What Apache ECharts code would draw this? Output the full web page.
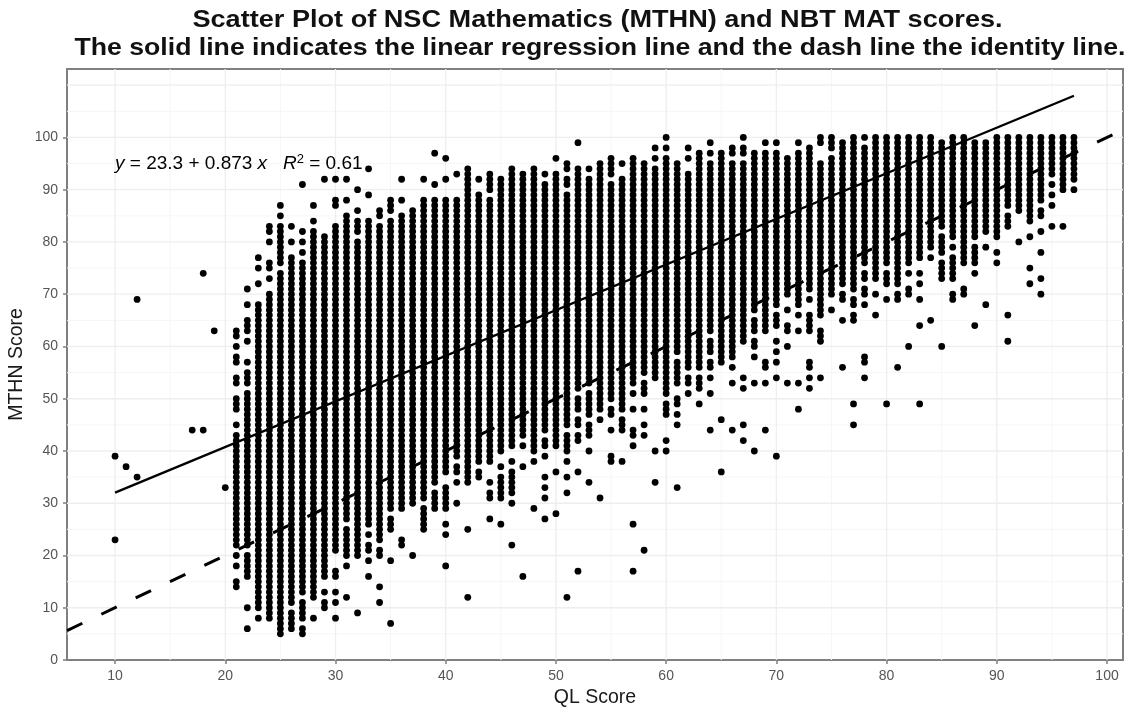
<!DOCTYPE html>
<html>
<head>
<meta charset="utf-8">
<style>
html,body{margin:0;padding:0;background:#fff;}
#chart{width:1130px;height:711px;filter:blur(0.3px);}
</style>
<script src="https://cdn.jsdelivr.net/npm/echarts@6/dist/echarts.min.js"></script>
</head>
<body>
<div id="chart"></div>
<script>
// QL score of each column of points
const qlScores = [10,11,12,17,18,19,20,21,22,23,24,25,26,27,28,29,30,31,32,33,34,35,36,37,38,39,40,41,42,43,44,45,46,47,48,49,50,51,52,53,54,55,56,57,58,59,60,61,62,63,64,65,66,67,68,69,70,71,72,73,74,75,76,77,78,79,80,81,82,83,84,85,86,87,88,89,90,91,92,93,94,95,96,97];
// MTHN scores seen in each column, as bands of occupied integer rows: [high, low] or [single]
const mthnBands = [
[[39],[23]],[[37]],[[69],[35]],[[44]],[[74],[44]],[[63]],[[33]],
[[63,62],[60],[58],[57],[54,53],[50,49],[48],[45],[43,22],[20],[18],[15,14]],
[[71],[68],[65,63],[61],[57],[55,53],[51,22],[20,16],[10],[6]],
[[77],[75],[72],[68,10],[8]],
[[83,82],[80],[76,75],[73],[70,8]],
[[87],[85],[83,76],[74,5]],
[[83],[80],[77,11],[9,6]],
[[91],[82],[80],[78],[76,13],[11,8],[6,5]],
[[87],[84],[82,12],[8]],
[[92],[81,16],[13],[11,10]],
[[92],[88,87],[83,21],[17,16],[13],[11],[8]],
[[92],[88],[85,27],[25,20],[18],[12]],
[[90],[86],[84,82],[80,20],[9]],
[[94],[89],[84,26],[24],[22,21],[19],[16]],
[[86,85],[83,23],[21,20],[14],[11]],
[[88,86],[84,29],[27,25],[19],[7]],
[[92],[88],[85,29],[23,22]],
[[86,30],[20]],
[[92],[88,31],[29,25]],
[[97],[91],[88,34],[32,29]],
[[96],[92],[88,36],[33,29],[26],[24],[18]],
[[93],[88,39],[37,36],[34],[30]],
[[94,34],[25],[12]],
[[92],[89,38],[36,35]],
[[93,90],[88,38],[34],[32,31],[27]],
[[92,40],[37],[35,31],[26]],
[[94,92],[91,41],[38],[36,32],[30],[22]],
[[93,43],[41],[37],[16]],
[[94,92],[91,40],[38],[29]],
[[93],[91,44],[42,41],[39],[35],[33],[31],[27]],
[[96],[93,41],[36],[28]],
[[95,94],[92,91],[89,45],[43,40],[38],[35],[32],[12]],
[[99],[94,52],[50,48],[46,45],[43,42],[36],[17]],
[[94],[92,53],[51,47],[45,43],[40],[34]],
[[95,48],[46],[31]],
[[96,93],[91,50],[48,47],[44],[39,38]],
[[95],[92,48],[46,44],[38]],
[[96,53],[51],[48],[44,43],[41],[26],[17]],
[[95,55],[53,51],[48],[45],[43],[21]],
[[98],[96],[94,54],[40],[34]],
[[100],[98],[96,51],[49,47],[42],[40]],
[[95,59],[57,53],[50,49],[47],[45],[33]],
[[98],[96],[93,56],[54,53],[51]],
[[97,56],[54,52],[49]],
[[99],[97],[95,63],[61,59],[57,56],[54],[51],[44]],
[[97,57],[46],[36]],
[[98,97],[95,58],[56],[53],[44]],
[[100],[98,97],[95,61],[54],[52],[45],[42]],
[[97,67],[65,63],[61,60],[58],[53],[40]],
[[99],[97,63],[57,56],[53],[44]],
[[99],[97,68],[66,64],[61],[59],[57],[54],[39]],
[[96,70],[67],[64,63],[60],[53]],
[[99],[97,68],[66],[63],[53],[48]],
[[98,71],[69],[66,63],[57,56],[54],[52]],
[[100,99],[95,66],[63,61],[54]],
[[100,98],[96,70],[67]],
[[99,72],[70,69],[65],[56]],
[[100,71],[69,68],[66,65],[49],[45]],
[[100],[98,76],[74,73],[71,70],[68],[58,57],[54]],
[[100,73],[70],[66]],
[[100,76],[74,72],[69],[49]],
[[100,72],[70,69],[56]],
[[100,76],[74],[71,70],[60]],
[[100,77],[74],[72],[69],[64],[49]],
[[100,79],[77],[65]],
[[99,83],[81,78],[76,73],[60]],
[[100,81],[79],[77,73],[70,69]],
[[100,76],[71,70]],
[[99,81],[79,76],[74],[64]],
[[99,82],[79],[68]],
[[100,81],[78],[76]],
[[100,87],[85,83],[66],[61]],
[[100,86],[80]],
[[100,84],[81],[75],[72]],
[[100,88],[86,85],[82],[78],[73],[70]],
[[100,93],[91],[89],[87],[83]],
[[100,90],[83]],
[[100,92],[90]]
];
const regressionX = [10, 97];
const regressionY = [32.03, 107.98];
const identityX = [5.64, 101.45];
const identityY = [5.64, 101.45];
const yMax = 113.1;
const xTickValues = [10,20,30,40,50,60,70,80,90,100];
const yTickValues = [0,10,20,30,40,50,60,70,80,90,100];
const xMinorGrid = [15,25,35,45,55,65,75,85,95];
const yMajorGrid = [10,20,30,40,50,60,70,80,90,100,110];
const yMinorGrid = [5,15,25,35,45,55,65,75,85,95,105];
const titleLines = ['Scatter Plot of NSC Mathematics (MTHN) and NBT MAT scores.','The solid line indicates the linear regression line and the dash line the identity line.'];

const points = [];
qlScores.forEach((q, i) => {
  mthnBands[i].forEach(b => {
    const hi = b[0], lo = b.length > 1 ? b[1] : b[0];
    for (let v = hi; v >= lo; v--) points.push([q, v]);
  });
});
// grid rules drawn under the points
const gridLine = (isVertical, values, color, width) => ({
  type: 'custom', z: 1, silent: true, clip: true,
  data: values.map(v => [v]),
  encode: isVertical ? {x: 0} : {y: 0},
  renderItem: (params, api) => {
    const v = api.value(0);
    const a = isVertical ? api.coord([v, 0]) : api.coord([identityX[0], v]);
    const b = isVertical ? api.coord([v, yMax]) : api.coord([identityX[1], v]);
    return {type: 'line', shape: {x1: a[0], y1: a[1], x2: b[0], y2: b[1]}, style: {stroke: color, lineWidth: width, fill: null}};
  }
});
const tickLabel = {color: '#555', fontSize: 14, fontFamily: 'Liberation Sans'};
const titleText = (text, x, y, sx) => ({
  type: 'text', x, y, scaleX: sx, z: 10, silent: true,
  style: {text, textAlign: 'center', textVerticalAlign: 'middle', fill: '#111',
    font: 'bold 24px "Liberation Sans"'}
});
const chart = echarts.init(document.getElementById('chart'), null, {renderer: 'canvas'});
chart.setOption({
  animation: false,
  backgroundColor: '#fff',
  grid: {left: 67, top: 69, width: 1056, height: 591, outerBoundsMode: 'none', show: true, backgroundColor: '#fff', borderColor: '#808080', borderWidth: 2, z: 0},
  xAxis: {
    type: 'value', min: identityX[0], max: identityX[1],
    name: 'QL Score', nameLocation: 'middle', nameGap: 27,
    nameTextStyle: {fontFamily: 'Liberation Sans', fontSize: 19.5, color: '#1a1a1a'},
    axisLine: {show: false}, splitLine: {show: false},
    axisTick: {show: true, length: 4, customValues: xTickValues, lineStyle: {color: '#7f7f7f', width: 1.5}},
    axisLabel: Object.assign({margin: 9, customValues: xTickValues}, tickLabel)
  },
  yAxis: {
    type: 'value', min: 0, max: yMax,
    name: 'MTHN Score', nameLocation: 'middle', nameGap: 40, nameMoveOverlap: false,
    nameTextStyle: {fontFamily: 'Liberation Sans', fontSize: 19.5, color: '#1a1a1a'},
    axisLine: {show: false}, splitLine: {show: false},
    axisTick: {show: true, length: 4, customValues: yTickValues, lineStyle: {color: '#7f7f7f', width: 1.5}},
    axisLabel: Object.assign({margin: 9, customValues: yTickValues}, tickLabel)
  },
  series: [
    gridLine(false, yMinorGrid, '#f6f6f6', 1),
    gridLine(true, xMinorGrid, '#f6f6f6', 1),
    gridLine(false, yMajorGrid, '#eeeeee', 1.3),
    gridLine(true, xTickValues, '#eeeeee', 1.3),
    {type: 'scatter', data: points, symbol: 'circle', symbolSize: 6.8, itemStyle: {color: '#000', opacity: 1}, z: 3, silent: true, large: false},
    {type: 'line', data: regressionX.map((x, i) => [x, regressionY[i]]), symbol: 'none', z: 4, silent: true,
     lineStyle: {color: '#000', width: 2.3}},
    {type: 'line', data: identityX.map((x, i) => [x, identityY[i]]), symbol: 'none', z: 4, silent: true,
     lineStyle: {color: '#000', width: 3, type: [17, 21]}}
  ],
  graphic: [
    titleText(titleLines[0], 597.5, 20, 1.13),
    titleText(titleLines[1], 600, 48, 1.11),
    {
      type: 'text', x: 115, y: 153, z: 10, silent: true,
      style: {
        rich: {
          i: {fontFamily: 'Liberation Sans', fontSize: 19, fontStyle: 'italic', fill: '#000', lineHeight: 22},
          n: {fontFamily: 'Liberation Sans', fontSize: 19, fill: '#000', lineHeight: 22},
          s: {fontFamily: 'Liberation Sans', fontSize: 13, fill: '#000', verticalAlign: 'top', lineHeight: 22}
        },
        text: '{i|y}{n| = 23.3 + 0.873 }{i|x}{n|   }{i|R}{s|2}{n| = 0.61}'
      }
    }
  ]
});
</script>
</body>
</html>
